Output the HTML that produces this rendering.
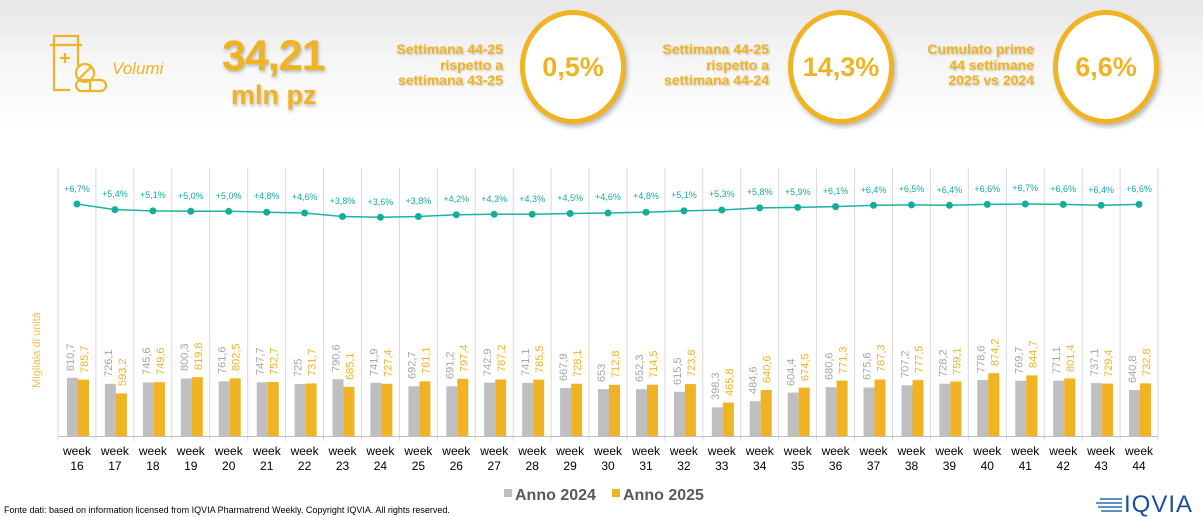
<!DOCTYPE html>
<html><head><meta charset="utf-8"><style>
html,body{margin:0;padding:0}
body{width:1203px;height:517px;overflow:hidden;background:linear-gradient(#e6e6e6 0px,#f6f6f6 60px,#fff 130px);font-family:"Liberation Sans",sans-serif;position:relative}
.a{position:absolute}
.gold{color:#f0b323}
.t{font-weight:bold;font-size:14px;line-height:15.5px;text-align:right;color:#f0b323;text-shadow:1px 1px 2px rgba(0,0,0,.2)}
.c{border:5px solid #f0b323;border-radius:50%;background:#fff;box-shadow:2px 3px 4px rgba(0,0,0,.25);display:flex;align-items:center;justify-content:center;font-size:27px;font-weight:bold;color:#f0b323;box-sizing:border-box}
</style></head><body>
<svg class="a" style="left:48px;top:32px" width="62" height="62" viewBox="0 0 62 62" fill="none" stroke="#f0b323" stroke-width="2.2">
<path d="M2 13 H34 M6 13 V4 H30 V13 M6 13 V58 H22 M30 13 V34"/>
<path d="M12 26 H22 M17 21 V31"/>
<circle cx="37" cy="41" r="9"/><path d="M31 47 L43 35"/>
<rect x="28" y="48" width="30" height="11" rx="5.5"/><path d="M42 48 V59"/>
</svg>
<div class="a gold" style="left:112px;top:59px;font-size:17px;font-style:italic">Volumi</div>
<div class="a gold" style="left:222px;top:32px;font-size:43px;font-weight:bold;letter-spacing:-1px;text-shadow:1px 2px 3px rgba(0,0,0,.25)">34,21</div>
<div class="a gold" style="left:231px;top:80px;font-size:27px;font-weight:bold;text-shadow:1px 2px 3px rgba(0,0,0,.25)">mln pz</div>
<div class="a t" style="right:700px;top:42px">Settimana 44-25<br>rispetto a<br>settimana 43-25</div>
<div class="a c" style="left:520px;top:10px;width:106px;height:114px">0,5%</div>
<div class="a t" style="right:434px;top:42px">Settimana 44-25<br>rispetto a<br>settimana 44-24</div>
<div class="a c" style="left:788px;top:10px;width:106px;height:114px">14,3%</div>
<div class="a t" style="right:169px;top:42px">Cumulato prime<br>44 settimane<br>2025 vs 2024</div>
<div class="a c" style="left:1053px;top:10px;width:106px;height:114px">6,6%</div>

<svg class="a" style="left:0;top:0" width="1203" height="517" font-family="Liberation Sans, sans-serif">
<g stroke="#d9d9d9" stroke-width="1">
<path d="M58 168V441M95.9 168V441M133.9 168V441M171.8 168V441M209.7 168V441M247.7 168V441M285.6 168V441M323.5 168V441M361.4 168V441M399.4 168V441M437.3 168V441M475.2 168V441M513.2 168V441M551.1 168V441M589 168V441M627 168V441M664.9 168V441M702.8 168V441M740.7 168V441M778.7 168V441M816.6 168V441M854.5 168V441M892.5 168V441M930.4 168V441M968.3 168V441M1006.3 168V441M1044.2 168V441M1082.1 168V441M1120.1 168V441M1158 168V441"/>
<path d="M58 436.5H1158" stroke="#bfbfbf"/>
</g>
<text transform="translate(40,350) rotate(-90)" text-anchor="middle" font-size="11" fill="#f5c15a">Migliaia di unità</text>
<g transform="translate(0,436) scale(1,-0.0718)">
<g fill="#bfbfbf">
<rect x="67" width="11" height="810.7"/><rect x="104.9" width="11" height="726.1"/><rect x="142.9" width="11" height="745.6"/><rect x="180.8" width="11" height="800.3"/><rect x="218.7" width="11" height="761.6"/><rect x="256.7" width="11" height="747.7"/><rect x="294.6" width="11" height="725"/><rect x="332.5" width="11" height="790.6"/><rect x="370.4" width="11" height="741.9"/><rect x="408.4" width="11" height="692.7"/><rect x="446.3" width="11" height="691.2"/><rect x="484.2" width="11" height="742.9"/><rect x="522.2" width="11" height="741.1"/><rect x="560.1" width="11" height="667.9"/><rect x="598" width="11" height="653"/><rect x="636" width="11" height="652.3"/><rect x="673.9" width="11" height="615.5"/><rect x="711.8" width="11" height="398.3"/><rect x="749.7" width="11" height="484.6"/><rect x="787.7" width="11" height="604.4"/><rect x="825.6" width="11" height="680.6"/><rect x="863.5" width="11" height="675.6"/><rect x="901.5" width="11" height="707.2"/><rect x="939.4" width="11" height="728.2"/><rect x="977.3" width="11" height="778.6"/><rect x="1015.3" width="11" height="769.7"/><rect x="1053.2" width="11" height="771.1"/><rect x="1091.1" width="11" height="737.1"/><rect x="1129" width="11" height="640.8"/>
</g>
<g fill="#f0b323">
<rect x="78" width="11" height="785.7"/><rect x="115.9" width="11" height="593.2"/><rect x="153.9" width="11" height="749.6"/><rect x="191.8" width="11" height="819.8"/><rect x="229.7" width="11" height="802.5"/><rect x="267.7" width="11" height="752.7"/><rect x="305.6" width="11" height="731.7"/><rect x="343.5" width="11" height="685.1"/><rect x="381.4" width="11" height="727.4"/><rect x="419.4" width="11" height="761.1"/><rect x="457.3" width="11" height="797.4"/><rect x="495.2" width="11" height="787.2"/><rect x="533.2" width="11" height="785.5"/><rect x="571.1" width="11" height="728.1"/><rect x="609" width="11" height="712.8"/><rect x="647" width="11" height="714.5"/><rect x="684.9" width="11" height="723.6"/><rect x="722.8" width="11" height="465.8"/><rect x="760.7" width="11" height="640.6"/><rect x="798.7" width="11" height="674.5"/><rect x="836.6" width="11" height="771.3"/><rect x="874.5" width="11" height="787.3"/><rect x="912.5" width="11" height="777.5"/><rect x="950.4" width="11" height="759.1"/><rect x="988.3" width="11" height="874.2"/><rect x="1026.3" width="11" height="844.7"/><rect x="1064.2" width="11" height="801.4"/><rect x="1102.1" width="11" height="729.4"/><rect x="1140" width="11" height="732.8"/>
</g></g>
<g font-size="11" fill="#a6a6a6">
<text transform="translate(74,371) rotate(-90)">810,7</text>
<text transform="translate(111.9,377) rotate(-90)">726,1</text>
<text transform="translate(149.9,375) rotate(-90)">745,6</text>
<text transform="translate(187.8,371) rotate(-90)">800,3</text>
<text transform="translate(225.7,374) rotate(-90)">761,6</text>
<text transform="translate(263.7,375) rotate(-90)">747,7</text>
<text transform="translate(301.6,377) rotate(-90)">725</text>
<text transform="translate(339.5,372) rotate(-90)">790,6</text>
<text transform="translate(377.4,376) rotate(-90)">741,9</text>
<text transform="translate(415.4,379) rotate(-90)">692,7</text>
<text transform="translate(453.3,379) rotate(-90)">691,2</text>
<text transform="translate(491.2,376) rotate(-90)">742,9</text>
<text transform="translate(529.2,376) rotate(-90)">741,1</text>
<text transform="translate(567.1,381) rotate(-90)">667,9</text>
<text transform="translate(605,382) rotate(-90)">653</text>
<text transform="translate(643,382) rotate(-90)">652,3</text>
<text transform="translate(680.9,385) rotate(-90)">615,5</text>
<text transform="translate(718.8,400) rotate(-90)">398,3</text>
<text transform="translate(756.7,394) rotate(-90)">484,6</text>
<text transform="translate(794.7,386) rotate(-90)">604,4</text>
<text transform="translate(832.6,380) rotate(-90)">680,6</text>
<text transform="translate(870.5,380) rotate(-90)">675,6</text>
<text transform="translate(908.5,378) rotate(-90)">707,2</text>
<text transform="translate(946.4,377) rotate(-90)">728,2</text>
<text transform="translate(984.3,373) rotate(-90)">778,6</text>
<text transform="translate(1022.3,374) rotate(-90)">769,7</text>
<text transform="translate(1060.2,374) rotate(-90)">771,1</text>
<text transform="translate(1098.1,376) rotate(-90)">737,1</text>
<text transform="translate(1136,383) rotate(-90)">640,8</text>
</g>
<g font-size="11" fill="#f0b323">
<text transform="translate(88,373) rotate(-90)">785,7</text>
<text transform="translate(125.9,386) rotate(-90)">593,2</text>
<text transform="translate(163.9,375) rotate(-90)">749,6</text>
<text transform="translate(201.8,370) rotate(-90)">819,8</text>
<text transform="translate(239.7,371) rotate(-90)">802,5</text>
<text transform="translate(277.7,375) rotate(-90)">752,7</text>
<text transform="translate(315.6,376) rotate(-90)">731,7</text>
<text transform="translate(353.5,380) rotate(-90)">685,1</text>
<text transform="translate(391.4,377) rotate(-90)">727,4</text>
<text transform="translate(429.4,374) rotate(-90)">761,1</text>
<text transform="translate(467.3,372) rotate(-90)">797,4</text>
<text transform="translate(505.2,372) rotate(-90)">787,2</text>
<text transform="translate(543.2,373) rotate(-90)">785,5</text>
<text transform="translate(581.1,377) rotate(-90)">728,1</text>
<text transform="translate(619,378) rotate(-90)">712,8</text>
<text transform="translate(657,378) rotate(-90)">714,5</text>
<text transform="translate(694.9,377) rotate(-90)">723,6</text>
<text transform="translate(732.8,396) rotate(-90)">465,8</text>
<text transform="translate(770.7,383) rotate(-90)">640,6</text>
<text transform="translate(808.7,381) rotate(-90)">674,5</text>
<text transform="translate(846.6,374) rotate(-90)">771,3</text>
<text transform="translate(884.5,372) rotate(-90)">787,3</text>
<text transform="translate(922.5,373) rotate(-90)">777,5</text>
<text transform="translate(960.4,375) rotate(-90)">759,1</text>
<text transform="translate(998.3,366) rotate(-90)">874,2</text>
<text transform="translate(1036.3,368) rotate(-90)">844,7</text>
<text transform="translate(1074.2,372) rotate(-90)">801,4</text>
<text transform="translate(1112.1,377) rotate(-90)">729,4</text>
<text transform="translate(1150,376) rotate(-90)">732,8</text>
</g>
<polyline fill="none" stroke="#1bb3a4" stroke-width="1.5" points="77,204 114.9,209.6 152.9,210.9 190.8,211.3 228.7,211.3 266.7,212.2 304.6,213 342.5,216.5 380.4,217.3 418.4,216.5 456.3,214.8 494.2,214.3 532.2,214.3 570.1,213.5 608,213 646,212.2 683.9,210.9 721.8,210 759.7,207.9 797.7,207.4 835.6,206.6 873.5,205.3 911.5,204.9 949.4,205.3 987.3,204.4 1025.3,204 1063.2,204.4 1101.1,205.3 1139,204.4"/>
<g fill="#13ad9e">
<circle cx="77" cy="204" r="3.5"/><circle cx="114.9" cy="209.6" r="3.5"/><circle cx="152.9" cy="210.9" r="3.5"/><circle cx="190.8" cy="211.3" r="3.5"/><circle cx="228.7" cy="211.3" r="3.5"/><circle cx="266.7" cy="212.2" r="3.5"/><circle cx="304.6" cy="213" r="3.5"/><circle cx="342.5" cy="216.5" r="3.5"/><circle cx="380.4" cy="217.3" r="3.5"/><circle cx="418.4" cy="216.5" r="3.5"/><circle cx="456.3" cy="214.8" r="3.5"/><circle cx="494.2" cy="214.3" r="3.5"/><circle cx="532.2" cy="214.3" r="3.5"/><circle cx="570.1" cy="213.5" r="3.5"/><circle cx="608" cy="213" r="3.5"/><circle cx="646" cy="212.2" r="3.5"/><circle cx="683.9" cy="210.9" r="3.5"/><circle cx="721.8" cy="210" r="3.5"/><circle cx="759.7" cy="207.9" r="3.5"/><circle cx="797.7" cy="207.4" r="3.5"/><circle cx="835.6" cy="206.6" r="3.5"/><circle cx="873.5" cy="205.3" r="3.5"/><circle cx="911.5" cy="204.9" r="3.5"/><circle cx="949.4" cy="205.3" r="3.5"/><circle cx="987.3" cy="204.4" r="3.5"/><circle cx="1025.3" cy="204" r="3.5"/><circle cx="1063.2" cy="204.4" r="3.5"/><circle cx="1101.1" cy="205.3" r="3.5"/><circle cx="1139" cy="204.4" r="3.5"/>
</g>
<g font-size="9" fill="#13ad9e" text-anchor="middle">
<text x="77" y="192">+6,7%</text><text x="114.9" y="197">+5,4%</text><text x="152.9" y="198">+5,1%</text><text x="190.8" y="199">+5,0%</text><text x="228.7" y="199">+5,0%</text><text x="266.7" y="199">+4,8%</text><text x="304.6" y="200">+4,6%</text><text x="342.5" y="204">+3,8%</text><text x="380.4" y="205">+3,6%</text><text x="418.4" y="204">+3,8%</text><text x="456.3" y="202">+4,2%</text><text x="494.2" y="202">+4,3%</text><text x="532.2" y="202">+4,3%</text><text x="570.1" y="201">+4,5%</text><text x="608" y="200">+4,6%</text><text x="646" y="199">+4,8%</text><text x="683.9" y="198">+5,1%</text><text x="721.8" y="197">+5,3%</text><text x="759.7" y="195">+5,8%</text><text x="797.7" y="195">+5,9%</text><text x="835.6" y="194">+6,1%</text><text x="873.5" y="193">+6,4%</text><text x="911.5" y="192">+6,5%</text><text x="949.4" y="193">+6,4%</text><text x="987.3" y="192">+6,6%</text><text x="1025.3" y="191">+6,7%</text><text x="1063.2" y="192">+6,6%</text><text x="1101.1" y="193">+6,4%</text><text x="1139" y="192">+6,6%</text>
</g>
<g font-size="12" fill="#000" text-anchor="middle">
<text x="77" y="455">week</text><text x="114.9" y="455">week</text><text x="152.9" y="455">week</text><text x="190.8" y="455">week</text><text x="228.7" y="455">week</text><text x="266.7" y="455">week</text><text x="304.6" y="455">week</text><text x="342.5" y="455">week</text><text x="380.4" y="455">week</text><text x="418.4" y="455">week</text><text x="456.3" y="455">week</text><text x="494.2" y="455">week</text><text x="532.2" y="455">week</text><text x="570.1" y="455">week</text><text x="608" y="455">week</text><text x="646" y="455">week</text><text x="683.9" y="455">week</text><text x="721.8" y="455">week</text><text x="759.7" y="455">week</text><text x="797.7" y="455">week</text><text x="835.6" y="455">week</text><text x="873.5" y="455">week</text><text x="911.5" y="455">week</text><text x="949.4" y="455">week</text><text x="987.3" y="455">week</text><text x="1025.3" y="455">week</text><text x="1063.2" y="455">week</text><text x="1101.1" y="455">week</text><text x="1139" y="455">week</text>
<text x="77" y="470">16</text><text x="114.9" y="470">17</text><text x="152.9" y="470">18</text><text x="190.8" y="470">19</text><text x="228.7" y="470">20</text><text x="266.7" y="470">21</text><text x="304.6" y="470">22</text><text x="342.5" y="470">23</text><text x="380.4" y="470">24</text><text x="418.4" y="470">25</text><text x="456.3" y="470">26</text><text x="494.2" y="470">27</text><text x="532.2" y="470">28</text><text x="570.1" y="470">29</text><text x="608" y="470">30</text><text x="646" y="470">31</text><text x="683.9" y="470">32</text><text x="721.8" y="470">33</text><text x="759.7" y="470">34</text><text x="797.7" y="470">35</text><text x="835.6" y="470">36</text><text x="873.5" y="470">37</text><text x="911.5" y="470">38</text><text x="949.4" y="470">39</text><text x="987.3" y="470">40</text><text x="1025.3" y="470">41</text><text x="1063.2" y="470">42</text><text x="1101.1" y="470">43</text><text x="1139" y="470">44</text>
</g>
<rect x="504" y="489" width="8" height="8" fill="#bfbfbf"/>
<text x="515" y="500" font-size="16" font-weight="bold" fill="#595959">Anno 2024</text>
<rect x="612" y="489" width="8" height="8" fill="#f0b323"/>
<text x="623" y="500" font-size="16" font-weight="bold" fill="#595959">Anno 2025</text>
<text x="4" y="513" font-size="9" fill="#000">Fonte dati: based on information licensed from IQVIA Pharmatrend Weekly. Copyright IQVIA. All rights reserved.</text>
<g stroke="#2b6cb0" stroke-width="1.6">
<path d="M1100 499H1122M1096 503H1122M1098 507H1122M1101 511H1122"/>
</g>
<text x="1124" y="512" font-size="24" fill="#1a4f9c" letter-spacing="1">IQVIA</text>
</svg>
</body></html>
